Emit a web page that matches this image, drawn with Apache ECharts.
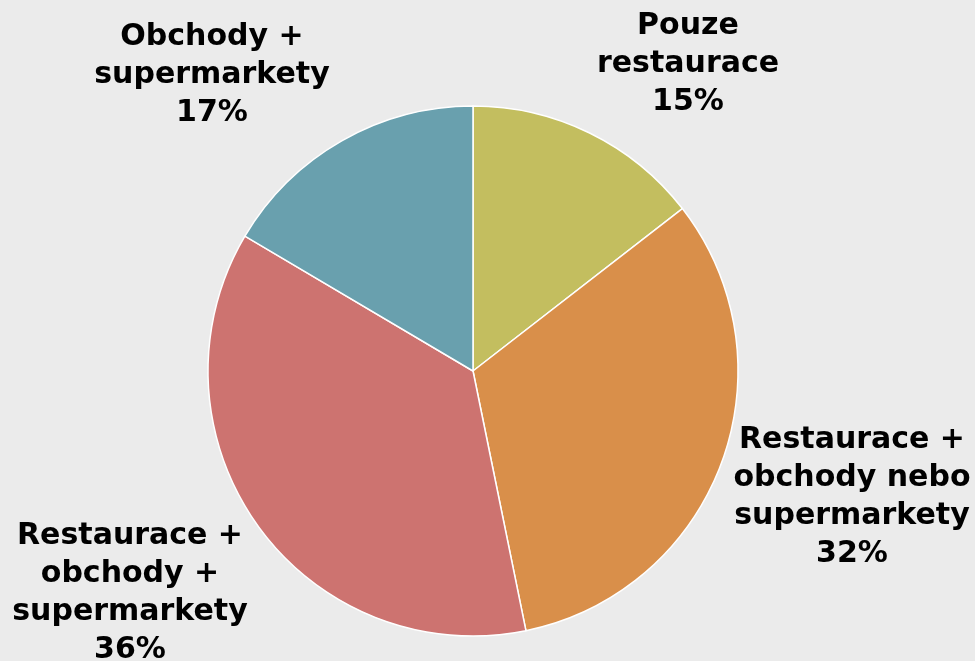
<!DOCTYPE html>
<html>
<head>
<meta charset="utf-8">
<script src="https://cdn.jsdelivr.net/npm/echarts@6/dist/echarts.min.js"></script>
<style>
  html, body { margin: 0; padding: 0; background: #ebebeb; }
  #chart { width: 975px; height: 661px; }
</style>
</head>
<body>
<div id="chart"></div>
<script>
// kategorie a podíly
const categories = [
    'Pouze\nrestaurace',
    'Restaurace +\nobchody nebo\nsupermarkety',
    'Restaurace +\nobchody +\nsupermarkety',
    'Obchody +\nsupermarkety'
]
const values = [14.5, 32.3, 36.7, 16.5]
const percentLabels = ['15%', '32%', '36%', '17%']
const colors = ['#c3be5f', '#d98f4a', '#cd7370', '#69a0ae']

// středy popisků
const labelPos = [[688, 64], [852, 497], [130, 593], [212, 75]]

const chart = echarts.init(document.getElementById('chart'))

chart.setOption({
    backgroundColor: '#ebebeb',
    animation: false,
    series: [{
        type: 'pie',
        center: [473, 371],
        radius: 265,
        startAngle: 90,
        clockwise: true,
        data: categories.map((name, i) => ({
            name: name,
            value: values[i],
            itemStyle: { color: colors[i] }
        })),
        itemStyle: { borderColor: '#ffffff', borderWidth: 1.5 },
        label: {
            show: true,
            position: 'outside',
            formatter: p => p.name + '\n' + percentLabels[p.dataIndex],
            fontFamily: 'DejaVu Sans',
            fontWeight: 'bold',
            fontSize: 30,
            lineHeight: 38,
            color: '#000',
            align: 'center',
            overflow: 'none'
        },
        labelLine: { show: false },
        labelLayout: params => ({
            x: labelPos[params.dataIndex][0],
            y: labelPos[params.dataIndex][1],
            align: 'center',
            verticalAlign: 'middle',
            hideOverlap: false
        }),
        emphasis: { disabled: true }
    }]
})
</script>
</body>
</html>
